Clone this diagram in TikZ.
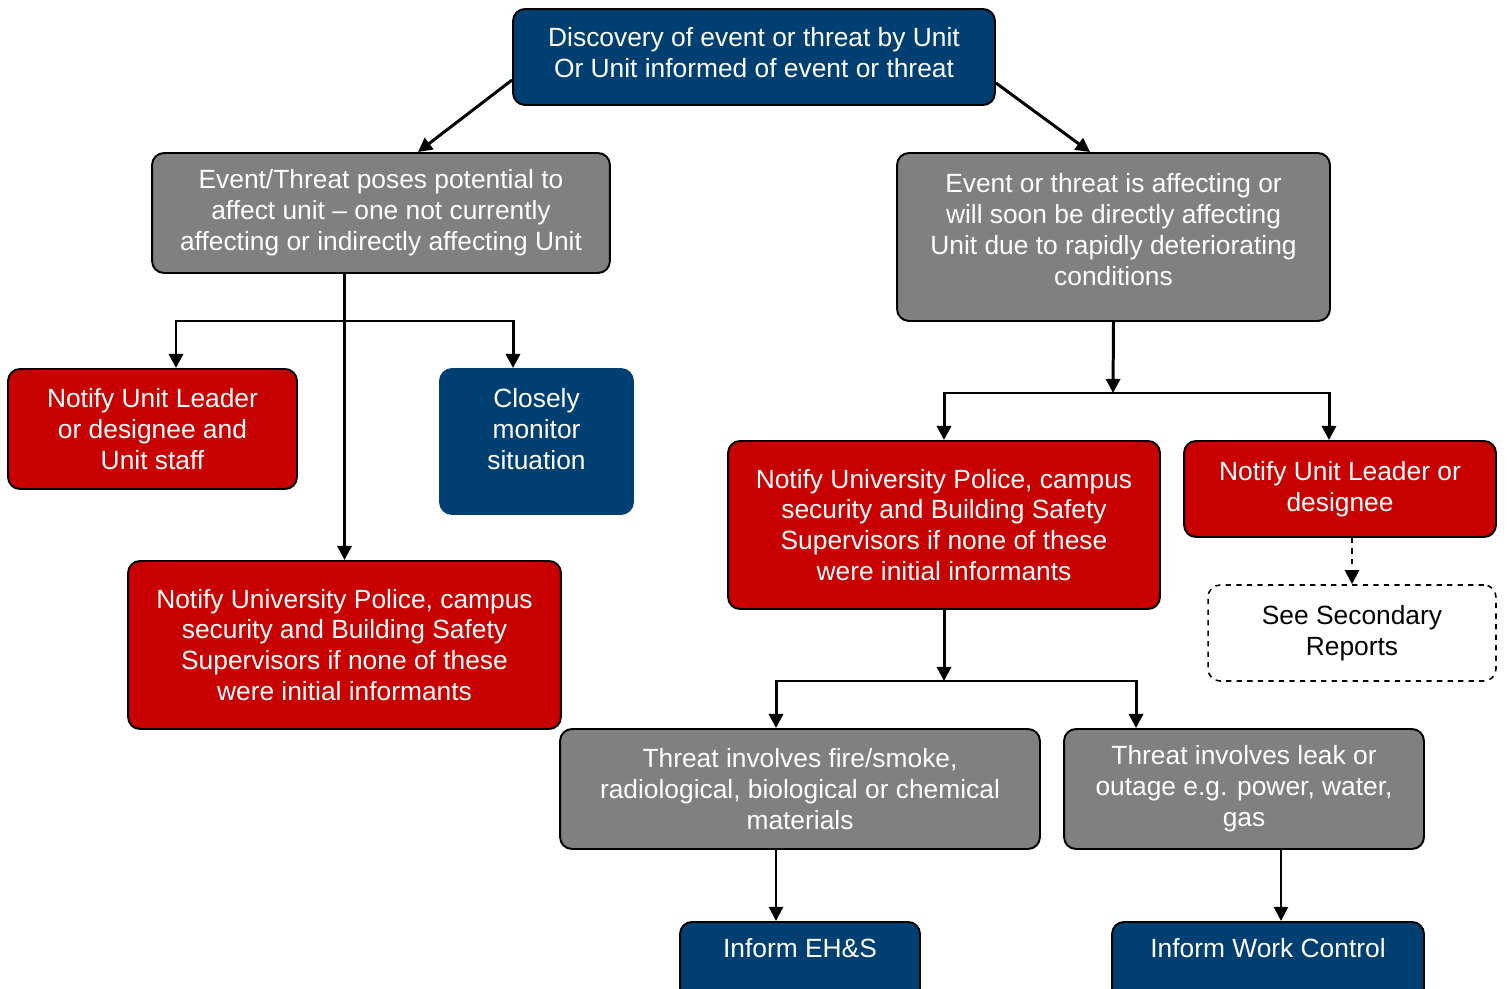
\documentclass[tikz,border=0pt]{standalone}
\usepackage{fontspec}
\setmainfont{Liberation Sans}
\usetikzlibrary{positioning, arrows.meta, calc}
\definecolor{unitBlue}{HTML}{003F72}
\definecolor{unitRed}{HTML}{C80000}
\definecolor{unitGray}{HTML}{808080}
\newcommand{\boxfont}{\fontsize{15}{17.6}\selectfont}

\begin{document}
\begin{tikzpicture}[x=0.02cm, y=-0.02cm,
  card/.style={draw=black, line width=1.1pt, rounded corners=0.24cm, align=center, inner sep=2pt, font=\boxfont, text=white},
  bluecard/.style={card, fill=unitBlue},
  redcard/.style={card, fill=unitRed},
  graycard/.style={card, fill=unitGray},
  dashcard/.style={card, fill=white, text=black, dashed, line width=0.9pt},
  endcard/.style={bluecard, anchor=north, minimum height=0pt, text height=0.65cm, text depth=1cm},
  arr/.style={-{Triangle[length=8pt, width=8pt]}, line width=1.7pt},
  thinarr/.style={-{Triangle[length=8pt, width=8pt]}, line width=1.2pt}]
\useasboundingbox (0,0) rectangle (1507,989);
\node[bluecard, minimum width=9.64cm, minimum height=1.92cm] (top) at (754,57) {Discovery of event or threat by Unit\\Or Unit informed of event or threat\rule[-0.2cm]{0pt}{0.1pt}};
\node[graycard, minimum width=9.16cm, minimum height=2.4cm] (lgray) at (381,213) {Event/Threat poses potential to\\affect unit -- one not currently\\affecting or indirectly affecting Unit};
\node[graycard, minimum width=8.66cm, minimum height=3.36cm] (rgray) at (1113.5,237) {Event or threat is affecting or\\will soon be directly affecting\\Unit due to rapidly deteriorating\\conditions\rule[-0.3cm]{0pt}{0.1pt}};
\node[redcard, minimum width=5.78cm, minimum height=2.4cm] (leader) at (152.5,429) {Notify Unit Leader\\or designee and\\Unit staff};
\node[bluecard, draw=unitBlue, minimum width=3.86cm, minimum height=2.9cm] (monitor) at (536.5,441.5) {Closely\\monitor\\situation\rule[-0.5cm]{0pt}{0.1pt}};
\node[redcard, minimum width=8.66cm, minimum height=3.36cm] (lpolice) at (344.5,645) {Notify University Police, campus\\security and Building Safety\\Supervisors if none of these\\were initial informants};
\node[redcard, minimum width=8.64cm, minimum height=3.36cm] (rpolice) at (944,525) {Notify University Police, campus\\security and Building Safety\\Supervisors if none of these\\were initial informants};
\node[redcard, minimum width=6.24cm, minimum height=1.92cm] (rleader) at (1340,489) {Notify Unit Leader or\\designee};
\node[dashcard, minimum width=5.76cm, minimum height=1.92cm] (secrep) at (1352,633) {See Secondary\\Reports};
\node[graycard, minimum width=9.6cm, minimum height=2.4cm] (fire) at (800,789) {Threat involves fire/smoke,\\radiological, biological or chemical\\materials};
\node[graycard, minimum width=7.2cm, minimum height=2.4cm] (leak) at (1244,789) {Threat involves leak or\\outage e.g. power, water,\\gas};
\node[endcard, minimum width=4.8cm] (ehs) at (800,921) {Inform EH\&S};
\node[endcard, minimum width=6.24cm] (wc) at (1268,921) {Inform Work Control};
% top split
\draw[arr] ([yshift=-0.46cm]top.west) -- ([xshift=0.74cm]lgray.north);
\draw[arr] ([yshift=-0.52cm]top.east) -- ([xshift=-0.47cm]rgray.north);
% left branch
\coordinate (lbr) at (345,321);
\draw[arr] (lgray.south -| lpolice.north) -- (lpolice.north);
\draw[arr] (lbr) -| ([xshift=0.47cm]leader.north);
\draw[arr] (lbr) -| ([xshift=-0.47cm]monitor.north);
% right branch
\coordinate (rbr) at (1113,393);
\draw[arr] (rgray.south) -- (rbr);
\draw[arr] (rbr) -| (rpolice.north);
\draw[arr] (rbr) -| ([xshift=-0.22cm]rleader.north);
\draw[thinarr, dashed] (secrep.north |- rleader.south) -- (secrep.north);
\coordinate (rbr2) at (944,681);
\draw[arr] (rpolice.south) -- (rbr2);
\draw[arr] (rbr2) -| ([xshift=-0.48cm]fire.north);
\draw[arr] (rbr2) -| ([xshift=-2.16cm]leak.north);
% bottom
\draw[thinarr] ([xshift=-0.48cm]fire.south) -- ([xshift=-0.48cm]fire.south |- ehs.north);
\draw[thinarr] ([xshift=0.74cm]leak.south) -- ([xshift=0.74cm]leak.south |- wc.north);
\end{tikzpicture}
\end{document}
